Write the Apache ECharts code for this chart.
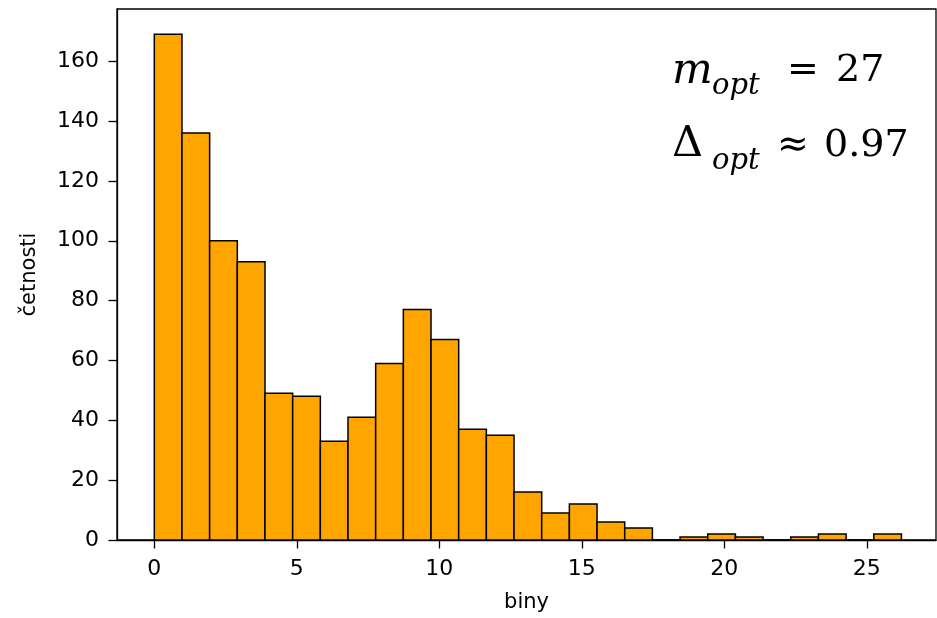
<!DOCTYPE html>
<html><head><meta charset="utf-8">
<script src="https://cdn.jsdelivr.net/npm/echarts@6/dist/echarts.min.js"></script>
<style>html,body{margin:0;padding:0;background:#fff}#c{width:937px;height:618px}</style>
</head><body><div id="c"></div>
<script>
const counts = [169,136,100,93,49,48,33,41,59,77,67,37,35,16,9,12,6,4,0,1,2,1,0,1,2,0,2];
const binStart = 0;
const binWidth = 0.971;
const xTicks = [0,5,10,15,20,25];
const yTicks = [0,20,40,60,80,100,120,140,160];
const xName = 'biny';
const yName = 'četnosti';

const binData = counts.map((c,i)=>[binStart+i*binWidth, binStart+(i+1)*binWidth, c]);
const font = 'DejaVu Sans';
const chart = echarts.init(document.getElementById('c'), null, {renderer:'canvas'});
const axisCommon = {
  axisLine:{show:true, onZero:false, lineStyle:{color:'#000', width:1.3}},
  axisTick:{show:true, length:8.5, lineStyle:{color:'#000', width:1.3}},
  splitLine:{show:false},
  nameTextStyle:{fontFamily:font, fontSize:21, color:'#000'}
};
chart.setOption({
  animation:false,
  backgroundColor:'#fff',
  grid:{left:117, right:1, top:9, bottom:75, show:true, borderColor:'#000', borderWidth:1.3, backgroundColor:'transparent'},
  xAxis:Object.assign({}, axisCommon, {
    type:'value', min:-1.309, max:27.43,
    name:xName, nameLocation:'middle', nameGap:52,
    axisTick:Object.assign({}, axisCommon.axisTick, {customValues:xTicks}),
    axisLabel:{customValues:xTicks, margin:18, fontFamily:font, fontSize:22, color:'#000'}
  }),
  yAxis:Object.assign({}, axisCommon, {
    type:'value', min:0, max:177.45,
    name:yName, nameLocation:'middle', nameGap:77, nameRotate:90,
    axisTick:Object.assign({}, axisCommon.axisTick, {customValues:yTicks}),
    axisLabel:{customValues:yTicks, margin:18, fontFamily:font, fontSize:22, color:'#000'}
  }),
  series:[{
    type:'custom',
    data:binData,
    encode:{x:[0,1], y:2},
    renderItem:function(params, api){
      const p0 = api.coord([api.value(0), api.value(2)]);
      const p1 = api.coord([api.value(1), 0]);
      return {type:'rect', shape:{x:p0[0], y:p0[1], width:p1[0]-p0[0], height:p1[1]-p0[1]},
        style:{fill:'#FFA500', stroke:'#000', lineWidth:1.5}};
    }
  }],
  graphic:[
    {type:'text', left:672, top:50, style:{text:'m', font:'italic 43px "DejaVu Serif"', fill:'#000'}},
    {type:'text', left:712, top:72, style:{text:'opt', font:'italic 29px "DejaVu Serif"', fill:'#000'}},
    {type:'text', left:787, top:52, style:{text:'=', font:'38px "DejaVu Serif"', fill:'#000'}},
    {type:'text', left:836, top:52, style:{text:'27', font:'38px "DejaVu Serif"', fill:'#000'}},
    {type:'text', left:672, top:123, style:{text:'Δ', font:'43px "DejaVu Serif"', fill:'#000'}},
    {type:'text', left:712, top:147, style:{text:'opt', font:'italic 29px "DejaVu Serif"', fill:'#000'}},
    {type:'text', left:777, top:127, style:{text:'≈', font:'38px "DejaVu Serif"', fill:'#000'}},
    {type:'text', left:824, top:127, style:{text:'0.97', font:'38px "DejaVu Serif"', fill:'#000'}}
  ]
});
</script></body></html>
